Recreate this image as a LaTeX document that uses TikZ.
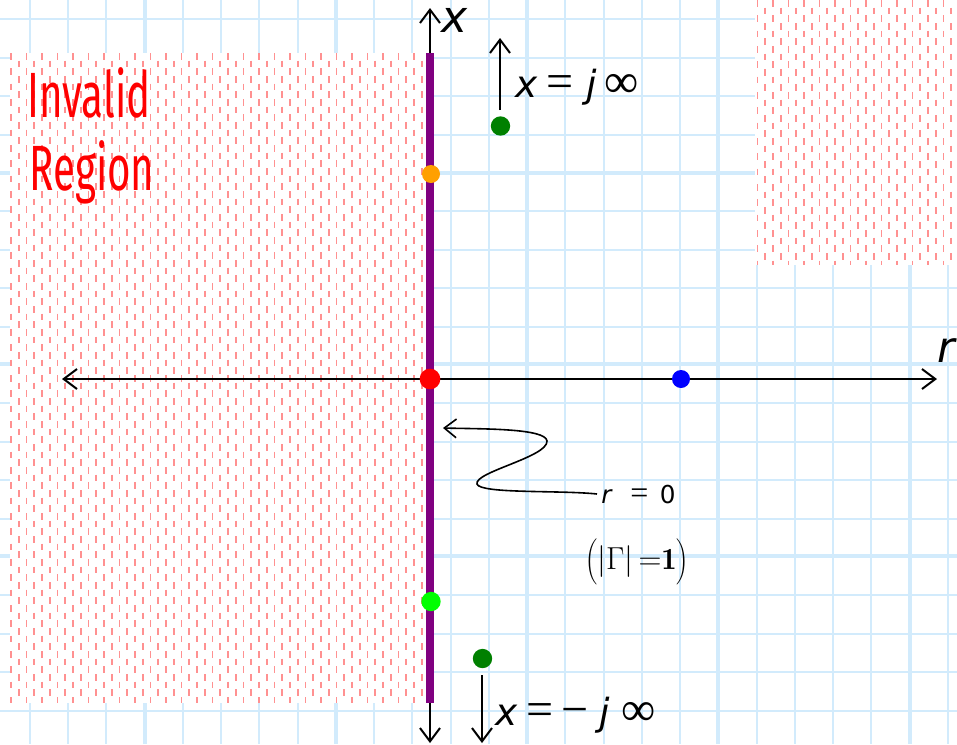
\documentclass[tikz,border=0pt]{standalone}
\usepackage{fontspec}
\usetikzlibrary{arrows.meta}
\newfontfamily\labfont{DejaVu Sans}
\newfontfamily\serfont{Liberation Serif}
\newfontfamily\handfont{Fira Sans}
\definecolor{gridblue}{RGB}{210,235,252}
\definecolor{hatchred}{RGB}{255,145,145}
\definecolor{axpurple}{RGB}{128,0,128}
\definecolor{dkgreen}{RGB}{0,128,0}
\definecolor{ltgreen}{RGB}{0,255,0}
\definecolor{orng}{RGB}{255,160,0}
\newcommand\bigsym[1]{{\serfont\fontsize{36}{40}\selectfont #1}}
\tikzset{
  gridthin/.style={gridblue, line width=1.5pt},
  gridthick/.style={gridblue, line width=3pt},
  hatchline/.style={hatchred, line width=1.4pt, dash pattern=on 5pt off 6.5pt},
  mybarb/.tip={Straight Barb[length=10pt,width=15pt]},
  smallbarb/.tip={Straight Barb[length=9pt,width=14pt]},
  axisline/.style={black, line width=1.5pt},
  dot/.style={circle, inner sep=0pt, minimum size=14.5pt},
  lab/.style={font=\labfont\fontsize{28}{32}\selectfont, inner sep=0pt},
  handlab/.style={font=\handfont\fontsize{48}{52}\selectfont, text=red, inner sep=0pt}
}
\begin{document}
\begin{tikzpicture}[x=0.75pt,y=-0.75pt]
\useasboundingbox (0,0) rectangle (957,744);
\fill[white] (0,0) rectangle (957,744);
% grid
\foreach \k in {0,...,24} \draw[gridthin] ({29.75+\k*38.25},0) -- ({29.75+\k*38.25},744);
\foreach \xx in {144.5,335.75,527,718.25,909.5} \draw[gridthick] (\xx,0) -- (\xx,744);
\foreach \k in {0,...,19} \draw[gridthin] (0,{19.4+\k*38.4}) -- (957,{19.4+\k*38.4});
\foreach \yy in {173,364.4,556.4} \draw[gridthick] (0,\yy) -- (957,\yy);
% invalid regions
\fill[white] (10,53) rectangle (428,703);
\foreach \k in {0,...,53} {
  \pgfmathsetmacro\xx{11+\k*7.75}
  \pgfmathsetmacro\ph{mod(\k,2)*5.75}
  \draw[hatchline, dash phase=\ph pt] (\xx,53) -- (\xx,703);
}
\fill[white] (755,0) rectangle (957,265);
\foreach \k in {0,...,25} {
  \pgfmathsetmacro\xx{757.5+\k*7.75}
  \pgfmathsetmacro\ph{mod(\k,2)*5.75}
  \draw[hatchline, dash phase=\ph pt] (\xx,0) -- (\xx,265);
}
% axes
\coordinate (xtop) at (430,8);
\coordinate (xbot) at (430,743);
\coordinate (rl) at (62,379);
\coordinate (rr) at (937,379);
\draw[axisline, mybarb-mybarb] (rl) -- (rr);
\draw[axisline, mybarb-mybarb] (xbot) -- (xtop);
\coordinate (pt) at (430,53);
\coordinate (pb) at (430,703);
\draw[axpurple, line width=6pt] (pt) -- (pb);
% dots
\node[dot, fill=red, minimum size=15.5pt] (p0) at (430,379) {};
\node[dot, fill=blue, minimum size=13.5pt] (pblue) at (681,379) {};
\node[dot, fill=orng, minimum size=13.5pt] (porange) at (431,174) {};
\node[dot, fill=ltgreen] (plg) at (431,601.5) {};
\node[dot, fill=dkgreen] (gtop) at (500.5,126) {};
\node[dot, fill=dkgreen] (gbot) at (482.5,658.5) {};
% infinity arrows
\coordinate (a1s) at (500,110);
\coordinate (a1e) at (500,38);
\draw[axisline, -mybarb] (a1s) -- (a1e);
\coordinate (a2s) at (482,675);
\coordinate (a2e) at (482,743);
\draw[axisline, -mybarb] (a2s) -- (a2e);
% labels
\node[lab, anchor=base west, font=\labfont\fontsize{33}{36}\selectfont] (xlab) at (441,32) {\itshape x};
\node[lab, anchor=base west, font=\labfont\fontsize{32}{36}\selectfont] (rlab) at (937,362) {\itshape r};
\node[lab, anchor=base west] (ljinf) at (515,97) {{\itshape x}\hspace{7.1pt}\bigsym{=}\hspace{9.4pt}{\itshape j}\hspace{6pt}\bigsym{∞}};
\node[lab, anchor=base west] (lmjinf) at (495,725) {{\itshape x}\hspace{7.1pt}\bigsym{=}\hspace{6pt}\bigsym{−}\hspace{7.9pt}{\itshape j}\hspace{9pt}\bigsym{∞}};
\node[lab, anchor=base west, font=\labfont\fontsize{18.5}{22}\selectfont] (rzero) at (601,503) {{\itshape r}\hspace{14.25pt}{\serfont\fontsize{24}{28}\selectfont =}\hspace{8.6pt}0};
\node[inner sep=0pt, font=\fontsize{20}{24}\selectfont] (gam) at (637,562) {\scalebox{1.15}{$\left(\vrule height 17pt depth 9pt width 0pt\left|\vrule height 14pt depth 6pt width 0pt\Gamma\right|{=}\mathbf{1}\right)$}};
\node[handlab, anchor=base west] (inv1) at (27,117) {\scalebox{0.63}[1]{Invalid}};
\node[handlab, anchor=base west] (inv2) at (29,190) {\scalebox{0.63}[1]{Region}};
% squiggle arrow
\coordinate (sq0) at (597,494);
\coordinate (sq1) at (443,428);
\draw[black, line width=1.2pt, -smallbarb] (sq0) .. controls (560,490) and (480,494) .. (477,484) .. controls (474,472) and (548,457) .. (547,441) .. controls (546,428) and (480,429) .. (sq1);
\end{tikzpicture}
\end{document}
